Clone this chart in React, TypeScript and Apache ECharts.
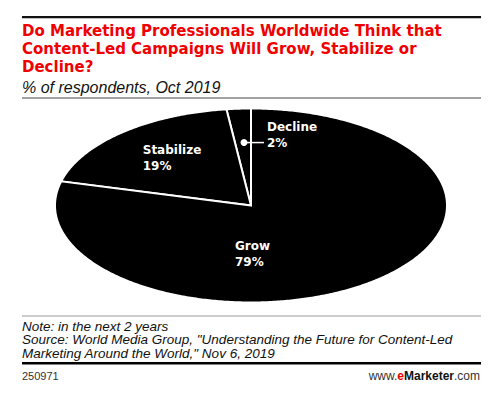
import React, { useEffect, useRef } from "react";
import * as echarts from "echarts";

const categories = ["Decline", "Stabilize", "Grow"];
const values = [2, 19, 79];
const valueLabels = ["2%", "19%", "79%"];

const titleLines = [
  "Do Marketing Professionals Worldwide Think that",
  "Content-Led Campaigns Will Grow, Stabilize or",
  "Decline?",
];
const subtitle = "% of respondents, Oct 2019";
const noteLines = [
  "Note: in the next 2 years",
  'Source: World Media Group, "Understanding the Future for Content-Led',
  'Marketing Around the World," Nov 6, 2019',
];
const chartId = "250971";

const PIE = { cx: 251, cy: 205.5, rx: 196, ry: 97 };
const LABEL_FONT = "DejaVu Sans";
const RED = "#f00000";

export default function App() {
  const ref = useRef<HTMLDivElement>(null);
  useEffect(() => {
    if (!ref.current) return;
    const chart = echarts.init(ref.current, null, { renderer: "svg" });
    const total = values.reduce((a, b) => a + b, 0);

    const pt = (theta: number, f = 1) => [
      PIE.cx - PIE.rx * f * Math.sin(theta),
      PIE.cy - PIE.ry * f * Math.cos(theta),
    ];

    const renderItem = (params: any, api: any) => {
      const i = params.dataIndex;
      const before = values.slice(0, i).reduce((a, b) => a + b, 0);
      const v = api.value(0);
      const a0 = (before / total) * Math.PI * 2;
      const a1 = ((before + v) / total) * Math.PI * 2;
      const steps = Math.max(4, Math.ceil((a1 - a0) / 0.01));
      const points: number[][] = [[PIE.cx, PIE.cy]];
      for (let s = 0; s <= steps; s++) {
        points.push(pt(a0 + ((a1 - a0) * s) / steps));
      }
      const mid = (a0 + a1) / 2;
      const children: any[] = [
        {
          type: "polygon",
          shape: { points },
          style: { fill: "#000", stroke: "#fff", lineWidth: 2, lineJoin: "miter" },
          z2: 1,
        },
      ];
      const text = categories[i] + "\n" + valueLabels[i];
      const txtStyle = {
        fill: "#fff",
        fontFamily: LABEL_FONT,
        fontWeight: "bold",
        fontSize: 12,
        lineHeight: 15.5,
        align: "left",
        textAlign: "left",
        verticalAlign: "middle",
        textVerticalAlign: "middle",
      };
      if (v / total < 0.05) {
        const [dx, dy] = pt(mid, 0.65);
        children.push(
          { type: "circle", shape: { cx: dx + 1, cy: dy, r: 3.5 }, style: { fill: "#fff" }, z2: 3 },
          {
            type: "line",
            shape: { x1: dx + 1, y1: dy, x2: dx + 21, y2: dy },
            style: { stroke: "#fff", lineWidth: 1.5 },
            z2: 3,
          },
          {
            type: "text",
            style: { ...txtStyle, text, x: dx + 24, y: dy - 7.75 },
            z2: 3,
          }
        );
      } else if (v / total > 0.5) {
        children.push({
          type: "text",
          style: { ...txtStyle, text, x: PIE.cx - 16, y: PIE.cy + PIE.ry * 0.5 },
          z2: 3,
        });
      } else {
        const [lx, ly] = pt(mid, 0.65);
        children.push({
          type: "text",
          style: { ...txtStyle, text, x: lx - 24, y: ly },
          z2: 3,
        });
      }
      return { type: "group", children };
    };

    const textEl = (text: string, x: number, y: number, style: any) => ({
      type: "text",
      x,
      y,
      style: { text, textVerticalAlign: "middle", verticalAlign: "middle", ...style },
    });

    const titleStyle = {
      fill: RED,
      fontFamily: "DejaVu Sans",
      fontWeight: "bold",
      fontSize: 15,
    };
    const noteStyle = {
      fill: "#111",
      fontFamily: "Liberation Sans",
      fontStyle: "italic",
      fontSize: 13.5,
    };

    chart.setOption({
      animation: false,
      backgroundColor: "#fff",
      series: [
        {
          type: "custom",
          coordinateSystem: "none",
          renderItem,
          data: values.map((v, i) => ({ name: categories[i], value: v })),
          silent: true,
        },
      ],
      graphic: [
        { type: "rect", shape: { x: 22, y: 16, width: 459, height: 2.2 }, style: { fill: "#111" } },
        ...titleLines.map((t, k) => textEl(t, 22, 31 + k * 18, titleStyle)),
        textEl(subtitle, 22, 87, {
          fill: "#111",
          fontFamily: "Liberation Sans",
          fontStyle: "italic",
          fontSize: 16,
        }),
        { type: "rect", shape: { x: 22, y: 97.5, width: 459, height: 1 }, style: { fill: "#444" } },
        { type: "rect", shape: { x: 22, y: 315.5, width: 459, height: 1 }, style: { fill: "#999" } },
        ...noteLines.map((t, k) => textEl(t, 22, 326 + k * 13.7, noteStyle)),
        { type: "rect", shape: { x: 22, y: 362, width: 459, height: 2.5 }, style: { fill: "#000" } },
        textEl(chartId, 22, 375.5, {
          fill: "#333",
          fontFamily: "Liberation Sans",
          fontSize: 11,
        }),
        {
          type: "text",
          x: 480,
          y: 375.5,
          style: {
            text: "{n|www.}{e|e}{m|Marketer}{n|.com}",
            textAlign: "right",
            align: "right",
            textVerticalAlign: "middle",
            verticalAlign: "middle",
            rich: {
              n: { fontFamily: "Liberation Sans", fontSize: 12, fill: "#333" },
              e: { fontFamily: "Liberation Sans", fontSize: 12, fontWeight: "bold", fill: RED },
              m: { fontFamily: "Liberation Sans", fontSize: 12, fontWeight: "bold", fill: "#111" },
            },
          },
        },
      ],
    });
    return () => chart.dispose();
  }, []);
  return (
    <div
      ref={ref}
      style={{ position: "fixed", left: 0, top: 0, width: 496, height: 394, background: "#fff" }}
    />
  );
}
